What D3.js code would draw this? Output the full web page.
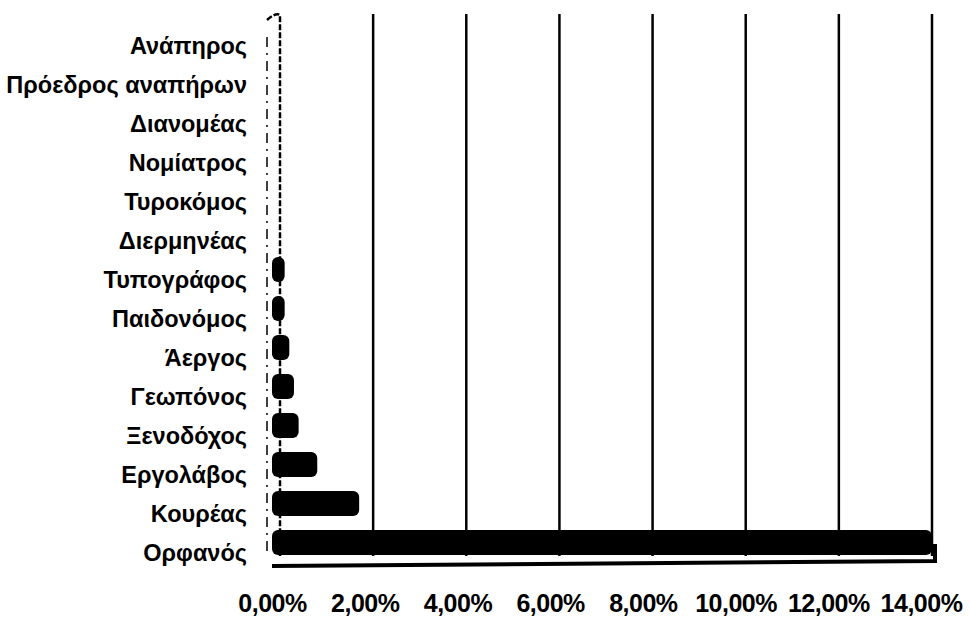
<!DOCTYPE html>
<html>
<head>
<meta charset="utf-8">
<script src="https://cdn.jsdelivr.net/npm/d3@7"></script>
<style>
  body { margin: 0; background: #fff; }
  svg { display: block; font-family: "Liberation Sans", Arial, sans-serif; font-weight: bold; }
</style>
</head>
<body>
<div id="d3"></div>
<script>
const categories = [
  "Ανάπηρος", "Πρόεδρος αναπήρων", "Διανομέας", "Νομίατρος", "Τυροκόμος",
  "Διερμηνέας", "Τυπογράφος", "Παιδονόμος", "Άεργος", "Γεωπόνος",
  "Ξενοδόχος", "Εργολάβος", "Κουρέας", "Ορφανός"
];
const values = [0, 0, 0, 0, 0, 0, 0.1, 0.1, 0.2, 0.3, 0.4, 0.8, 1.7, 14.0];
const ticks = [0, 2, 4, 6, 8, 10, 12, 14];

const width = 970;
const height = 620;
const depth = { dx: -8, dy: 8 };

const svg = d3.select("#d3").append("svg")
  .attr("width", width)
  .attr("height", height);

// back plane (gridlines) and front plane (bars start, tick labels)
const xBack = d3.scaleLinear().domain([0, 14]).range([280, 932]);
const xFront = d3.scaleLinear().domain([0, 14]).range([272, 921]);
const y = d3.scaleBand().domain(categories).range([26, 572]);

const plotTop = 14, floor = 556;

// gridlines
svg.append("g")
  .selectAll("line")
  .data(ticks.slice(1))
  .join("line")
  .attr("x1", (d) => xBack(d))
  .attr("x2", (d) => xBack(d))
  .attr("y1", plotTop)
  .attr("y2", floor)
  .attr("stroke", "#000")
  .attr("stroke-width", 2.5);

// left wall
svg.append("path")
  .attr("d", `M${xBack(0) + depth.dx - 5},${plotTop + 6} Q${xBack(0) - 4},${plotTop - 2} ${xBack(0)},${plotTop + 1} L${xBack(0)},${floor}`)
  .attr("fill", "none")
  .attr("stroke", "#000")
  .attr("stroke-width", 2.5)
  .attr("stroke-dasharray", "6,2");
svg.append("line")
  .attr("x1", xBack(0) + depth.dx - 5)
  .attr("x2", xBack(0) + depth.dx - 5)
  .attr("y1", plotTop + 23)
  .attr("y2", floor)
  .attr("stroke", "#000")
  .attr("stroke-width", 1.5)
  .attr("stroke-dasharray", "10,6,2,6");

// floor edge
svg.append("path")
  .attr("d", `M${xFront(0)},${floor + 10} L${xBack(14) + 3},${floor + 5} L${xBack(14) + 3},${floor - 12}`)
  .attr("fill", "none")
  .attr("stroke", "#000")
  .attr("stroke-width", 4);

// bars
svg.append("g")
  .selectAll("rect")
  .data(categories.map((c, i) => [c, values[i]]).filter((d) => d[1] > 0))
  .join("rect")
  .attr("x", xFront(0))
  .attr("y", (d) => y(d[0]) - 3)
  .attr("width", (d) => xBack(d[1]) - xFront(0))
  .attr("height", 25)
  .attr("rx", 6)
  .attr("fill", "#000");

// category labels
svg.append("g")
  .selectAll("text")
  .data(categories)
  .join("text")
  .attr("x", 247)
  .attr("y", (d) => y(d) + y.bandwidth() / 2)
  .attr("dy", "0.35em")
  .attr("text-anchor", "end")
  .style("font-size", "23.5px")
  .text((d) => d);

// value axis
const xAxis = svg.append("g")
  .attr("transform", `translate(0, ${594})`)
  .call(d3.axisBottom(xFront).tickValues(ticks).tickSize(0).tickPadding(0)
    .tickFormat((d) => d3.format(".2f")(d).replace(".", ",") + "%"));
xAxis.select(".domain").remove();
xAxis.selectAll("text")
  .attr("fill", "#000")
  .attr("dy", "0.71em")
  .style("font-family", "Liberation Sans, Arial, sans-serif")
  .style("font-weight", "bold")
  .style("font-size", "25px")
  .style("letter-spacing", "-0.5px");
</script>
</body>
</html>
